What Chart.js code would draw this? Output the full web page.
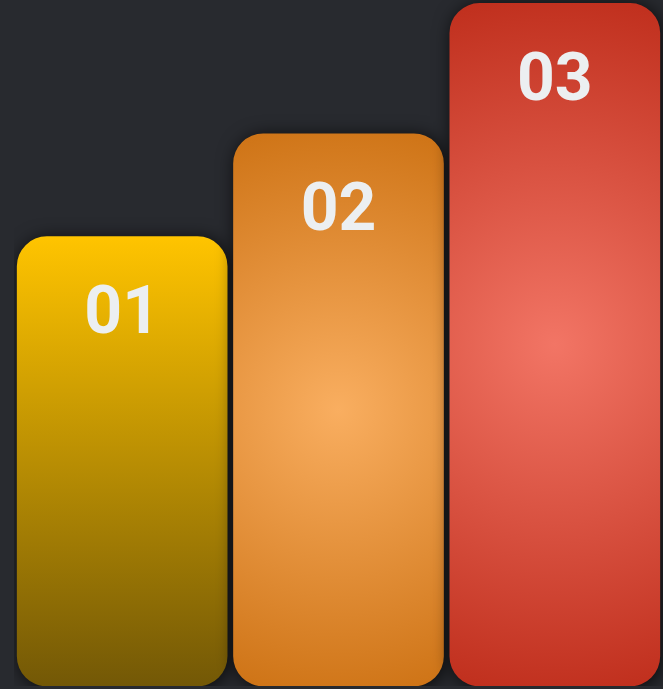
<!DOCTYPE html>
<html>
<head>
<meta charset="utf-8">
<script src="https://cdn.jsdelivr.net/npm/chart.js@4.4.1/dist/chart.umd.min.js"></script>
<style>
  html, body { margin: 0; padding: 0; background: #282a2f; }
  #wrap { width: 663px; height: 689px; }
</style>
</head>
<body>
<div id="wrap"><canvas id="podium"></canvas></div>
<script>
// chart data
var labels = ['01', '02', '03'];
var values = [65.5, 80.5, 99.5];
var yMax = 100;

// gradient fill per bar, positions come from the scales
function barFill(context) {
    var chart = context.chart;
    var ctx = chart.ctx;
    var xs = chart.scales.x, ys = chart.scales.y;
    if (!chart.chartArea || !xs || !ys || context.dataIndex === undefined) return '#cccccc';
    var i = context.dataIndex;
    var top = ys.getPixelForValue(values[i]);
    var bottom = ys.getPixelForValue(0);
    var cx = xs.getPixelForValue(i);
    var cy = top + (bottom - top) * 0.5;
    var g;
    if (i === 0) {
        g = ctx.createLinearGradient(0, top, 0, bottom);
        g.addColorStop(0, '#ffc400');
        g.addColorStop(1, '#735806');
    } else if (i === 1) {
        g = ctx.createRadialGradient(cx, cy, 0, cx, cy, 300);
        g.addColorStop(0, '#f9ae60');
        g.addColorStop(1, '#cd7214');
    } else {
        g = ctx.createRadialGradient(cx, cy, 0, cx, cy, 360);
        g.addColorStop(0, '#f27565');
        g.addColorStop(1, '#bf2e1c');
    }
    return g;
}

// soft shadow behind bars
var shadowPlugin = {
    id: 'barShadow',
    beforeDatasetDraw: function (chart) {
        var ctx = chart.ctx;
        ctx.save();
        ctx.shadowColor = 'rgba(0, 0, 0, 0.75)';
        ctx.shadowBlur = 18;
        ctx.shadowOffsetX = 2;
        ctx.shadowOffsetY = 2;
    },
    afterDatasetDraw: function (chart) {
        chart.ctx.restore();
    }
};

// number on top of each bar
var labelPlugin = {
    id: 'barLabels',
    afterDatasetsDraw: function (chart) {
        var ctx = chart.ctx;
        var meta = chart.getDatasetMeta(0);
        ctx.save();
        ctx.fillStyle = '#eceff1';
        ctx.font = 'bold 66px Roboto';
        ctx.textAlign = 'center';
        ctx.textBaseline = 'middle';
        meta.data.forEach(function (bar, i) {
            ctx.fillText(labels[i], bar.x, bar.y + 80);
        });
        ctx.restore();
    }
};

new Chart(document.getElementById('podium'), {
    type: 'bar',
    data: {
        labels: labels,
        datasets: [{
            data: values,
            backgroundColor: barFill,
            borderRadius: 30,
            borderSkipped: false,
            barThickness: 210
        }]
    },
    options: {
        responsive: true,
        maintainAspectRatio: false,
        animation: false,
        layout: { padding: { left: 14, right: 0, top: 0, bottom: 3 } },
        plugins: {
            legend: { display: false },
            tooltip: { enabled: false }
        },
        scales: {
            x: { display: false },
            y: { display: false, min: 0, max: yMax }
        }
    },
    plugins: [shadowPlugin, labelPlugin]
});
</script>
</body>
</html>
